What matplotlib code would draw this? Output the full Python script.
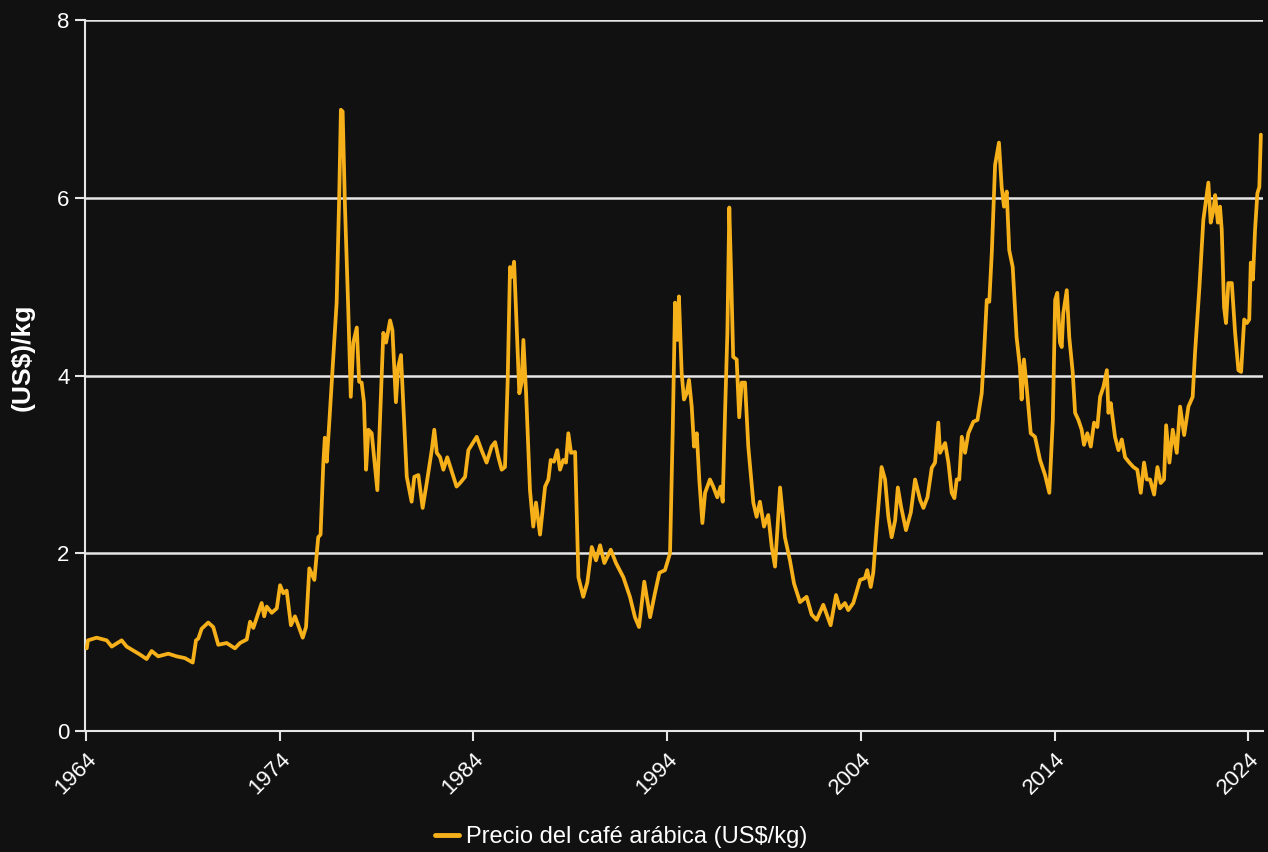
import numpy as np
import matplotlib
matplotlib.use("Agg")
from matplotlib import pyplot as plt

# arabica coffee price (year, US$/kg)
years = [
    1964.04, 1964.10, 1964.55, 1965.07, 1965.33, 1965.84, 1966.10, 1966.79,
    1967.13, 1967.39, 1967.73, 1968.25, 1968.68, 1969.11, 1969.51, 1969.68,
    1969.80, 1969.97, 1970.31, 1970.57, 1970.83, 1971.26, 1971.69, 1971.95,
    1972.30, 1972.47, 1972.64, 1973.07, 1973.20, 1973.33, 1973.59, 1973.85,
    1974.02, 1974.19, 1974.36, 1974.58, 1974.79, 1975.19, 1975.36, 1975.53,
    1975.79, 1975.99, 1976.11, 1976.25, 1976.33, 1976.43, 1976.56, 1976.77,
    1976.94, 1977.08, 1977.16, 1977.25, 1977.37, 1977.54, 1977.67, 1977.80,
    1977.98, 1978.10, 1978.23, 1978.35, 1978.46, 1978.58, 1978.75, 1979.04,
    1979.35, 1979.49, 1979.70, 1979.82, 1980.00, 1980.12, 1980.26, 1980.56,
    1980.81, 1980.95, 1981.16, 1981.38, 1981.59, 1981.85, 1981.98, 1982.11,
    1982.28, 1982.45, 1982.65, 1983.13, 1983.31, 1983.57, 1983.74, 1983.91,
    1984.17, 1984.42, 1984.68, 1984.94, 1985.12, 1985.29, 1985.46, 1985.63,
    1985.77, 1985.89, 1985.98, 1986.10, 1986.24, 1986.37, 1986.49, 1986.58,
    1986.72, 1986.92, 1987.09, 1987.23, 1987.44, 1987.70, 1987.87, 1987.99,
    1988.16, 1988.33, 1988.47, 1988.64, 1988.78, 1988.90, 1989.04, 1989.25,
    1989.42, 1989.67, 1989.88, 1990.11, 1990.33, 1990.54, 1990.76, 1991.09,
    1991.36, 1991.74, 1992.08, 1992.34, 1992.55, 1992.82, 1993.12, 1993.37,
    1993.60, 1993.89, 1994.15, 1994.29, 1994.41, 1994.53, 1994.61, 1994.75,
    1994.87, 1995.01, 1995.13, 1995.27, 1995.39, 1995.53, 1995.66, 1995.82,
    1995.96, 1996.21, 1996.38, 1996.59, 1996.76, 1996.87, 1996.99, 1997.11,
    1997.21, 1997.31, 1997.41, 1997.59, 1997.72, 1997.85, 1998.02, 1998.19,
    1998.45, 1998.62, 1998.79, 1999.00, 1999.22, 1999.40, 1999.57, 1999.83,
    2000.08, 2000.34, 2000.55, 2000.86, 2001.20, 2001.46, 2001.72, 2002.06,
    2002.44, 2002.72, 2002.92, 2003.18, 2003.35, 2003.61, 2003.96, 2004.21,
    2004.33, 2004.51, 2004.64, 2004.82, 2005.07, 2005.25, 2005.42, 2005.59,
    2005.77, 2005.91, 2006.08, 2006.33, 2006.58, 2006.80, 2007.06, 2007.23,
    2007.44, 2007.66, 2007.83, 2008.00, 2008.09, 2008.35, 2008.52, 2008.69,
    2008.83, 2008.95, 2009.08, 2009.21, 2009.38, 2009.55, 2009.81, 2010.02,
    2010.24, 2010.36, 2010.50, 2010.63, 2010.76, 2010.93, 2011.13, 2011.27,
    2011.39, 2011.53, 2011.66, 2011.84, 2012.04, 2012.21, 2012.30, 2012.42,
    2012.56, 2012.77, 2012.99, 2013.25, 2013.51, 2013.73, 2013.91, 2014.03,
    2014.14, 2014.28, 2014.37, 2014.45, 2014.63, 2014.76, 2014.94, 2015.06,
    2015.23, 2015.40, 2015.52, 2015.69, 2015.87, 2016.04, 2016.21, 2016.35,
    2016.52, 2016.70, 2016.78, 2016.90, 2017.12, 2017.30, 2017.47, 2017.64,
    2017.86, 2018.07, 2018.27, 2018.45, 2018.62, 2018.76, 2018.93, 2019.14,
    2019.31, 2019.48, 2019.65, 2019.76, 2019.93, 2020.10, 2020.31, 2020.48,
    2020.69, 2020.91, 2021.13, 2021.25, 2021.48, 2021.68, 2021.82, 2021.94,
    2022.06, 2022.20, 2022.29, 2022.43, 2022.54, 2022.63, 2022.75, 2022.85,
    2022.97, 2023.15, 2023.32, 2023.49, 2023.63, 2023.79, 2023.93, 2024.05,
    2024.13, 2024.24, 2024.35, 2024.47, 2024.57, 2024.65,
]
prices = [
    0.93, 1.02, 1.05, 1.02, 0.95, 1.02, 0.95, 0.86,
    0.81, 0.90, 0.84, 0.87, 0.84, 0.82, 0.77, 1.02,
    1.04, 1.15, 1.22, 1.17, 0.97, 0.99, 0.93, 0.99,
    1.03, 1.23, 1.16, 1.44, 1.29, 1.40, 1.33, 1.38,
    1.64, 1.55, 1.58, 1.19, 1.29, 1.05, 1.17, 1.83,
    1.70, 2.18, 2.21, 3.00, 3.30, 3.03, 3.47, 4.21,
    4.82, 6.09, 6.99, 6.97, 5.90, 4.74, 3.76, 4.37,
    4.54, 3.93, 3.92, 3.70, 2.94, 3.39, 3.35, 2.71,
    4.48, 4.37, 4.62, 4.51, 3.70, 4.10, 4.23, 2.86,
    2.58, 2.86, 2.88, 2.51, 2.79, 3.16, 3.39, 3.13,
    3.08, 2.94, 3.08, 2.75, 2.79, 2.86, 3.16, 3.22,
    3.31, 3.16, 3.02, 3.20, 3.25, 3.08, 2.94, 2.97,
    3.95, 5.22, 5.11, 5.28, 4.51, 3.80, 3.92, 4.40,
    3.80, 2.71, 2.30, 2.57, 2.21, 2.75, 2.83, 3.05,
    3.03, 3.16, 2.94, 3.05, 3.02, 3.35, 3.13, 3.14,
    1.73, 1.51, 1.67, 2.07, 1.92, 2.09, 1.89, 2.04,
    1.89, 1.73, 1.51, 1.28, 1.17, 1.68, 1.28, 1.55,
    1.78, 1.81, 2.00, 3.39, 4.82, 4.40, 4.89, 4.03,
    3.73, 3.80, 3.95, 3.65, 3.20, 3.35, 2.83, 2.34,
    2.68, 2.83, 2.75, 2.63, 2.75, 2.58, 3.58, 4.48,
    5.89, 5.08, 4.21, 4.18, 3.53, 3.92, 3.92, 3.20,
    2.57, 2.41, 2.58, 2.30, 2.43, 2.07, 1.85, 2.74,
    2.18, 1.92, 1.66, 1.45, 1.51, 1.31, 1.25, 1.42,
    1.19, 1.53, 1.38, 1.44, 1.36, 1.44, 1.70, 1.72,
    1.81, 1.62, 1.78, 2.30, 2.97, 2.83, 2.41, 2.18,
    2.37, 2.74, 2.52, 2.26, 2.46, 2.83, 2.60, 2.51,
    2.63, 2.96, 3.02, 3.47, 3.13, 3.24, 3.02, 2.68,
    2.62, 2.83, 2.83, 3.31, 3.13, 3.35, 3.48, 3.50,
    3.80, 4.25, 4.85, 4.83, 5.38, 6.37, 6.62, 6.12,
    5.90, 6.07, 5.41, 5.22, 4.43, 4.10, 3.73, 4.18,
    3.87, 3.35, 3.31, 3.05, 2.88, 2.68, 3.50, 4.85,
    4.93, 4.37, 4.32, 4.70, 4.96, 4.43, 4.03, 3.58,
    3.50, 3.39, 3.22, 3.35, 3.20, 3.47, 3.42, 3.76,
    3.87, 4.06, 3.58, 3.69, 3.31, 3.16, 3.28, 3.08,
    3.02, 2.97, 2.94, 2.68, 3.02, 2.83, 2.83, 2.66,
    2.97, 2.79, 2.83, 3.44, 3.02, 3.39, 3.13, 3.65,
    3.33, 3.65, 3.76, 4.25, 5.00, 5.75, 5.98, 6.17,
    5.72, 5.86, 6.03, 5.72, 5.90, 5.64, 4.77, 4.59,
    5.04, 5.04, 4.48, 4.06, 4.04, 4.63, 4.59, 4.63,
    5.27, 5.08, 5.64, 6.05, 6.12, 6.71,
]

x_ticks = [1964, 1974, 1984, 1994, 2004, 2014, 2024]
y_ticks = [0, 2, 4, 6, 8]
legend_label = "Precio del café arábica (US$/kg)"
y_title = "(US$)/kg"

bg = "#111111"
line_col = "#F6B01A"
fg = "white"

plt.rcParams["font.family"] = ["Liberation Sans", "DejaVu Sans"]

fig = plt.figure(figsize=(12.68, 8.52), dpi=100, facecolor=bg)
ax = fig.add_axes([85 / 1268, 1 - 731 / 852, 1178 / 1268, 711 / 852])
ax.set_facecolor(bg)

ax.plot(years, prices, color=line_col, lw=2.7, solid_joinstyle="round",
        solid_capstyle="round", label=legend_label, zorder=3)

ax.set_xlim(1963.95, 2024.76)
ax.set_ylim(0, 8)
ax.set_xticks(x_ticks)
ax.set_yticks(y_ticks)
ax.set_xticklabels([str(t) for t in x_ticks], rotation=45, ha="right",
                   rotation_mode="anchor")

ax.grid(axis="y", color="#e6e6e6", lw=1.8, zorder=1)
ax.grid(axis="x", visible=False)
for s in ["top", "right"]:
    ax.spines[s].set_visible(False)
for s in ["left", "bottom"]:
    ax.spines[s].set_color("#e6e6e6")
    ax.spines[s].set_linewidth(1.5)

ax.tick_params(axis="both", colors="#e6e6e6", labelcolor=fg, labelsize=16,
               length=7, width=1.5)
ax.tick_params(axis="x", pad=6)
ax.tick_params(axis="y", pad=4)

ax.set_ylabel(y_title, color=fg, fontsize=19, fontweight="bold")
ax.yaxis.set_label_coords(-0.043, 0.526)

leg = fig.legend(loc="lower center", bbox_to_anchor=(0.49, -0.02),
                 frameon=False, fontsize=17, handlelength=1.0,
                 handletextpad=0.3)
for t in leg.get_texts():
    t.set_color(fg)
for h in leg.get_lines():
    h.set_linewidth(3.5)

fig.savefig("out.png", dpi=100, facecolor=bg)
